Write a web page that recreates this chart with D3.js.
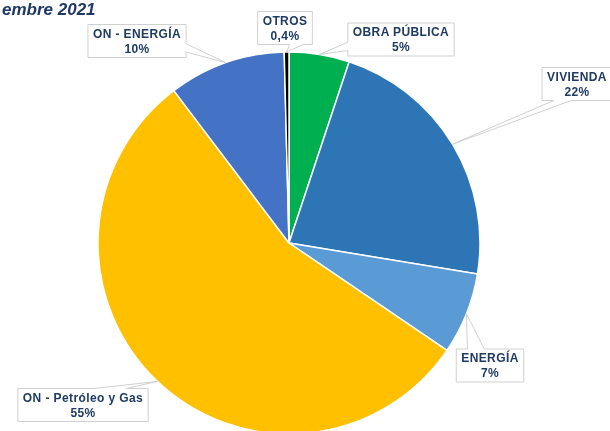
<!DOCTYPE html>
<head>
  <meta charset="utf-8">
  <script src="https://d3js.org/d3.v7.min.js"></script>
  <style>
    body {
      margin:0;position:fixed;top:0;right:0;bottom:0;left:0;
      background-color: white;
      font-family: "Liberation Sans", Arial, sans-serif;
    }
    .title {
      font-size: 17px;
      font-weight: bold;
      font-style: italic;
      fill: #1f3864;
    }
    .lbl {
      font-size: 12px;
      font-weight: bold;
      letter-spacing: 0.4px;
      fill: #1f3b63;
    }
  </style>
</head>

<body>
  <script>
    // data, clockwise from 12 o'clock
    var sectors = ["OBRA  PÚBLICA", "VIVIENDA", "ENERGÍA", "ON - Petróleo y Gas", "ON - ENERGÍA", "OTROS"];
    var shares = [5.1, 22.5, 6.9, 55.2, 9.9, 0.4];
    var shareLabels = ["5%", "22%", "7%", "55%", "10%", "0,4%"];
    var colors = ["#00b050", "#2e75b6", "#5b9bd5", "#ffc000", "#4472c4", "#000000"];

    // label box centres (layout only)
    var boxPos = [[401, 39.5], [577, 84], [490, 365.5], [83, 405], [137, 41], [285, 28]];

    var W = 610, H = 431;
    var cx = 289, cy = 243, R = 191;

    var svg = d3.select("body").append("svg")
      .attr("width", W)
      .attr("height", H);

    // title is cut at the left edge in the source image
    svg.append("text")
      .attr("class", "title")
      .attr("x", 2)
      .attr("y", 15)
      .text("embre 2021");

    var data = sectors.map(function(s, i) {
      return {name: s, value: shares[i], label: shareLabels[i], color: colors[i], box: boxPos[i]};
    });

    var pie = d3.pie()
      .sort(null)
      .value(function(d) { return d.value; });

    var arc = d3.arc().innerRadius(0).outerRadius(R);

    var arcs = pie(data);

    var g = svg.append("g")
      .attr("transform", "translate(" + cx + "," + cy + ")");

    g.selectAll("path.slice").data(arcs).enter()
      .append("path")
      .attr("class", "slice")
      .attr("d", arc)
      .style("fill", function(d) { return d.data.color; })
      .style("stroke", "white")
      .style("stroke-width", 1.5)
      .style("stroke-linejoin", "round");

    // callouts (wedgeRectCallout style)
    var labels = svg.selectAll(".callout").data(arcs).enter()
      .append("g")
      .attr("class", "callout");

    var shape = labels.append("path")
      .style("fill", "white")
      .style("stroke", "#d0d0d0")
      .style("stroke-width", 1);

    var t1 = labels.append("text")
      .attr("class", "lbl")
      .attr("text-anchor", "middle")
      .attr("dominant-baseline", "central")
      .attr("x", function(d) { return d.data.box[0]; })
      .attr("y", function(d) { return d.data.box[1] - 7.5; })
      .text(function(d) { return d.data.name; });

    labels.append("text")
      .attr("class", "lbl")
      .attr("text-anchor", "middle")
      .attr("dominant-baseline", "central")
      .attr("x", function(d) { return d.data.box[0]; })
      .attr("y", function(d) { return d.data.box[1] + 7.5; })
      .text(function(d) { return d.data.label; });

    shape.attr("d", function(d, i) {
      var tw = t1.nodes()[i].getComputedTextLength();
      var w = tw + 10, h = 33;
      var bx = d.data.box[0], by = d.data.box[1];
      var l = bx - w / 2, r = bx + w / 2, t = by - h / 2, b = by + h / 2;
      var a = (d.startAngle + d.endAngle) / 2;
      var tx = cx + R * Math.sin(a), ty = cy - R * Math.cos(a);
      var dx = tx - bx, dy = ty - by;
      var xa = dx > 0 ? l + w * 7 / 12 : l + w * 2 / 12;
      var xb = dx > 0 ? l + w * 10 / 12 : l + w * 5 / 12;
      var ya = dy > 0 ? t + h * 7 / 12 : t + h * 2 / 12;
      var yb = dy > 0 ? t + h * 10 / 12 : t + h * 5 / 12;
      var horiz = Math.abs(dx * h / w) > Math.abs(dy);
      var p = d3.path();
      p.moveTo(l, t);
      if (!horiz && dy < 0) { p.lineTo(xa, t); p.lineTo(tx, ty); p.lineTo(xb, t); }
      p.lineTo(r, t);
      if (horiz && dx > 0) { p.lineTo(r, ya); p.lineTo(tx, ty); p.lineTo(r, yb); }
      p.lineTo(r, b);
      if (!horiz && dy > 0) { p.lineTo(xb, b); p.lineTo(tx, ty); p.lineTo(xa, b); }
      p.lineTo(l, b);
      if (horiz && dx < 0) { p.lineTo(l, yb); p.lineTo(tx, ty); p.lineTo(l, ya); }
      p.closePath();
      return p.toString();
    });

  </script>
</body>
